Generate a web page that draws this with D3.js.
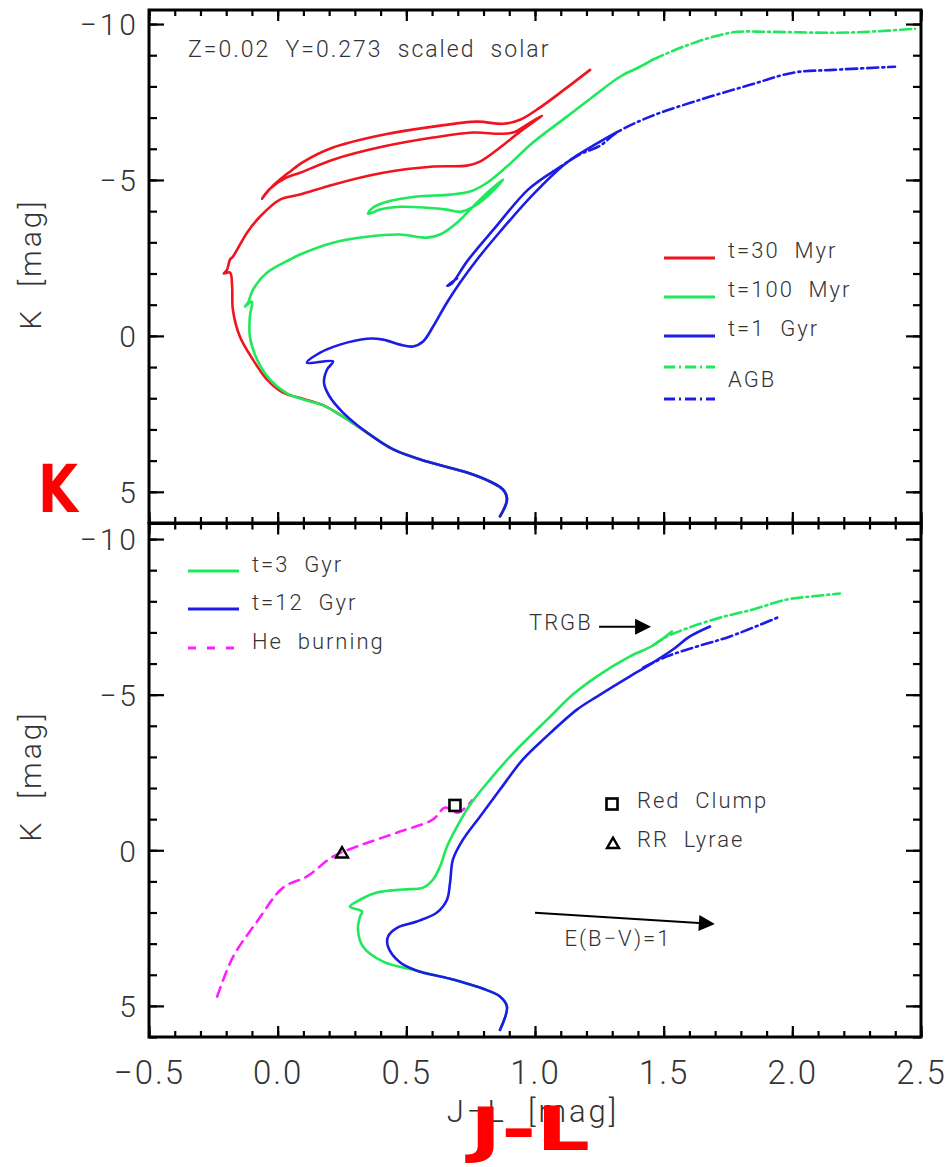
<!DOCTYPE html>
<html><head><meta charset="utf-8">
<script src="https://cdn.jsdelivr.net/npm/d3@7"></script>
<style>
html,body{margin:0;padding:0;background:#fff;}
svg{display:block;}
text{font-family:"Roboto","DejaVu Sans",sans-serif;font-weight:300;fill:#333;white-space:pre;}
</style></head>
<body>
<script>
// ---------------- DATA (J-L [mag], K [mag]) ----------------
const xTicksMajor = [-0.5, 0.0, 0.5, 1.0, 1.5, 2.0, 2.5];
const yTicksMajor = [-10, -5, 0, 5];

// Top panel isochrones
const red30Myr = [[0.864,5.79],[0.891,5.25],[0.876,4.93],[0.825,4.67],[0.736,4.38],[0.580,4.03],[0.449,3.64],[0.347,3.10],[0.254,2.59],[0.176,2.22],[0.100,2.02],[0.021,1.82],[-0.041,1.40],[-0.096,0.76],[-0.147,0.02],[-0.174,-0.84],[-0.177,-1.58],[-0.185,-2.03],[-0.209,-2.00],[-0.197,-2.12],[-0.185,-2.45],[-0.174,-2.54],[-0.119,-3.31],[-0.069,-3.82],[0.009,-4.37],[0.087,-4.53],[0.215,-4.85],[0.410,-5.23],[0.604,-5.43],[0.736,-5.46],[0.786,-5.59],[0.864,-6.04],[0.942,-6.55],[1.027,-7.06],[0.981,-6.84],[0.915,-6.52],[0.864,-6.48],[0.759,-6.52],[0.604,-6.36],[0.410,-6.07],[0.215,-5.65],[0.087,-5.23],[0.030,-5.06],[-0.030,-4.72],[-0.061,-4.40],[-0.020,-4.80],[0.045,-5.25],[0.100,-5.58],[0.215,-6.04],[0.410,-6.45],[0.604,-6.71],[0.775,-6.87],[0.876,-6.80],[0.942,-6.93],[1.019,-7.32],[1.124,-7.96],[1.214,-8.53]];
const green100Myr = [[0.864,5.79],[0.891,5.25],[0.876,4.93],[0.825,4.67],[0.736,4.38],[0.580,4.03],[0.449,3.64],[0.347,3.10],[0.254,2.59],[0.176,2.22],[0.100,2.04],[0.036,1.84],[-0.030,1.40],[-0.080,0.76],[-0.108,0.02],[-0.108,-0.62],[-0.100,-1.10],[-0.127,-0.94],[-0.115,-1.07],[-0.096,-1.48],[-0.041,-2.03],[0.048,-2.45],[0.087,-2.61],[0.215,-2.99],[0.347,-3.18],[0.475,-3.25],[0.580,-3.15],[0.631,-3.25],[0.697,-3.63],[0.786,-4.37],[0.876,-5.01],[0.814,-4.47],[0.759,-4.14],[0.709,-3.98],[0.658,-4.05],[0.580,-4.11],[0.475,-4.14],[0.398,-4.05],[0.367,-3.95],[0.351,-3.92],[0.370,-4.11],[0.425,-4.30],[0.541,-4.47],[0.670,-4.53],[0.748,-4.63],[0.814,-4.91],[0.891,-5.43],[0.992,-6.20],[1.124,-7.03],[1.225,-7.67],[1.330,-8.31],[1.408,-8.63],[1.458,-8.86]];
const green100MyrAGB = [[1.458,-8.86],[1.575,-9.27],[1.692,-9.59],[1.785,-9.75],[1.902,-9.75],[2.158,-9.72],[2.291,-9.75],[2.477,-9.85]];
const blue1Gyr = [[0.864,5.79],[0.891,5.25],[0.876,4.93],[0.825,4.67],[0.736,4.38],[0.580,4.03],[0.449,3.64],[0.347,3.10],[0.254,2.46],[0.200,1.92],[0.180,1.50],[0.192,1.08],[0.215,0.82],[0.114,0.86],[0.165,0.54],[0.242,0.28],[0.347,0.09],[0.410,0.12],[0.475,0.28],[0.526,0.34],[0.565,0.18],[0.604,-0.30],[0.658,-1.07],[0.709,-1.71],[0.775,-2.45],[0.864,-3.34],[0.992,-4.53],[1.124,-5.56],[1.253,-6.23],[1.322,-6.55]];
const blue1GyrLoop = [[0.697,-1.84],[0.658,-1.61],[0.677,-1.68],[0.736,-2.39],[0.845,-3.47],[0.973,-4.69],[1.070,-5.27]];
const blue1GyrAGB = [[1.070,-5.27],[1.175,-5.82],[1.253,-6.10],[1.318,-6.52],[1.447,-7.03],[1.641,-7.57],[1.836,-8.05],[2.003,-8.44],[2.158,-8.53],[2.399,-8.63]];

// Bottom panel isochrones
const green3Gyr = [[0.864,5.77],[0.891,5.03],[0.864,4.70],[0.798,4.45],[0.670,4.13],[0.541,3.87],[0.410,3.58],[0.332,3.10],[0.312,2.55],[0.320,2.13],[0.328,1.97],[0.281,1.81],[0.320,1.59],[0.386,1.36],[0.487,1.26],[0.565,1.20],[0.604,0.94],[0.631,0.52],[0.658,-0.12],[0.697,-0.76],[0.748,-1.47],[0.825,-2.27],[0.903,-3.01],[0.975,-3.62],[1.050,-4.22],[1.148,-5.01],[1.241,-5.59],[1.369,-6.23],[1.458,-6.58],[1.532,-7.03]];
const green3GyrAGB = [[1.458,-6.58],[1.513,-6.87],[1.692,-7.41],[1.847,-7.74],[1.980,-8.06],[2.080,-8.16],[2.185,-8.25]];
const blue12Gyr = [[0.864,5.77],[0.891,5.03],[0.864,4.70],[0.798,4.45],[0.670,4.13],[0.541,3.87],[0.475,3.60],[0.429,3.10],[0.429,2.77],[0.464,2.49],[0.541,2.29],[0.619,2.00],[0.658,1.59],[0.670,1.04],[0.681,0.30],[0.720,-0.34],[0.786,-1.08],[0.864,-1.95],[0.953,-2.92],[1.040,-3.62],[1.163,-4.52],[1.241,-4.94],[1.369,-5.59],[1.435,-5.91],[1.536,-6.45],[1.602,-6.87],[1.680,-7.19]];
const blue12GyrAGB = [[1.420,-5.87],[1.513,-6.23],[1.630,-6.55],[1.758,-6.87],[1.952,-7.51]];
const heBurning = [[-0.235,4.70],[-0.173,3.42],[-0.080,2.29],[0.021,1.20],[0.114,0.84],[0.215,0.20],[0.308,-0.12],[0.475,-0.60],[0.604,-0.99],[0.650,-1.37],[0.700,-1.21],[0.755,-1.60]];
const redClump = [[0.689,-1.44]];
const rrLyrae = [[0.250,0.07]];

// Annotations (data coordinates)
const trgbArrow = [[1.249,-7.18],[1.451,-7.18]];
const reddeningArrow = [[1.000,2.01],[1.699,2.37]];

const topLegendLabels = ["t=30  Myr","t=100  Myr","t=1  Gyr","AGB"];
const bottomLegendLabels = ["t=3  Gyr","t=12  Gyr","He  burning"];
const markerLabels = ["Red  Clump","RR  Lyrae"];

// ---------------- STYLE ----------------
const RED="#f0141e", GREEN="#1fe85a", BLUE="#1c1ce6", MAG="#ff1eff";
const DASHDOT="11,4,2,4";
const LS=2;

const W=946,H=1167;
const svg=d3.select("body").append("svg").attr("width",W).attr("height",H);
const x=d3.scaleLinear().domain([-0.5,2.5]).range([149,921]);
const yTop=d3.scaleLinear().domain([-10.45,6]).range([10,523]);
const yBot=d3.scaleLinear().domain([-10.5,6]).range([523.5,1037]);

const fmtY=d=>d<0?"\u2212"+Math.abs(d):String(d);
const fmtX=d=>d<0?"\u2212"+Math.abs(d).toFixed(1):d.toFixed(1);

function drawAxes(y, showX){
  const r=y.range(), x0=x.range()[0], x1=x.range()[1];
  const g=svg.append("g");
  const minorY=d3.range(-10,6.01,1), minorX=d3.range(-0.5,2.501,0.1);
  g.append("g").attr("transform",`translate(${x0},0)`).call(d3.axisLeft(y).tickValues(minorY).tickFormat("").tickSizeInner(-8).tickSizeOuter(0));
  g.append("g").attr("class","lab").attr("transform",`translate(${x0},0)`).call(d3.axisLeft(y).tickValues(yTicksMajor).tickFormat(fmtY).tickSizeInner(-15).tickSizeOuter(0).tickPadding(10));
  g.append("g").attr("transform",`translate(${x1},0)`).call(d3.axisRight(y).tickValues(minorY).tickFormat("").tickSizeInner(-8).tickSizeOuter(0));
  g.append("g").attr("transform",`translate(${x1},0)`).call(d3.axisRight(y).tickValues(yTicksMajor).tickFormat("").tickSizeInner(-15).tickSizeOuter(0));
  g.append("g").attr("transform",`translate(0,${r[0]})`).call(d3.axisTop(x).tickValues(minorX).tickFormat("").tickSizeInner(-6).tickSizeOuter(0));
  g.append("g").attr("transform",`translate(0,${r[0]})`).call(d3.axisTop(x).tickValues(xTicksMajor).tickFormat("").tickSizeInner(-11).tickSizeOuter(0));
  g.append("g").attr("transform",`translate(0,${r[1]})`).call(d3.axisBottom(x).tickValues(minorX).tickFormat("").tickSizeInner(-6).tickSizeOuter(0));
  g.append("g").attr("class","labx").attr("transform",`translate(0,${r[1]})`).call(d3.axisBottom(x).tickValues(xTicksMajor).tickFormat(showX?fmtX:"").tickSizeInner(-11).tickSizeOuter(0).tickPadding(24));
  g.selectAll(".domain").remove();
  g.selectAll(".tick line").attr("stroke","#000").attr("stroke-width",2.2);
  g.selectAll(".lab .tick text").attr("font-size",30).attr("dy","0.36em").attr("letter-spacing",3);
  g.selectAll(".labx .tick text").attr("font-size",33).attr("letter-spacing",2);
  g.selectAll(".tick text").attr("fill","#3a3a3a").style("font-family","Roboto, sans-serif").style("font-weight","300");
  g.append("rect").attr("x",x0).attr("y",r[0]).attr("width",x1-x0).attr("height",r[1]-r[0]).attr("fill","none").attr("stroke","#000").attr("stroke-width",3);
}

function curve(y,data,color,dash,w){
  const line=d3.line().x(d=>x(d[0])).y(d=>y(d[1])).curve(d3.curveCatmullRom.alpha(0.5));
  svg.append("path").datum(data).attr("d",line).attr("fill","none").attr("stroke",color)
    .attr("stroke-width",w||2.6).attr("stroke-linejoin","round").attr("stroke-linecap","round")
    .attr("stroke-dasharray",dash||null);
}
function label(xp,yp,txt,size,anchor){
  return svg.append("text").attr("x",xp).attr("y",yp).attr("font-size",size||22).attr("letter-spacing",LS)
    .attr("text-anchor",anchor||"start").text(txt);
}

// ---- top panel ----
curve(yTop,red30Myr,RED);
curve(yTop,green100Myr,GREEN);
curve(yTop,green100MyrAGB,GREEN,DASHDOT);
curve(yTop,blue1Gyr,BLUE);
curve(yTop,blue1GyrLoop,BLUE);
curve(yTop,blue1GyrAGB,BLUE,DASHDOT);
drawAxes(yTop,false);

label(188,57,"Z=0.02  Y=0.273  scaled  solar",23);

const tLeg=[{c:RED,d:null,y:258},{c:GREEN,d:null,y:297},{c:BLUE,d:null,y:336},{c:GREEN,d:DASHDOT,y:367},{c:BLUE,d:DASHDOT,y:399}];
tLeg.forEach(l=>svg.append("line").attr("x1",664).attr("x2",715).attr("y1",l.y).attr("y2",l.y).attr("stroke",l.c).attr("stroke-width",3).attr("stroke-dasharray",l.d));
[[topLegendLabels[0],258],[topLegendLabels[1],297],[topLegendLabels[2],336],[topLegendLabels[3],387]].forEach(t=>label(728,t[1],t[0],22));

// ---- bottom panel ----
curve(yBot,heBurning,MAG,"10,7");
curve(yBot,green3Gyr,GREEN);
curve(yBot,green3GyrAGB,GREEN,DASHDOT);
curve(yBot,blue12Gyr,BLUE);
curve(yBot,blue12GyrAGB,BLUE,DASHDOT);
drawAxes(yBot,true);

const bLeg=[{c:GREEN,d:null,y:571},{c:BLUE,d:null,y:609},{c:MAG,d:"8,11",y:648}];
bLeg.forEach((l,i)=>{
  svg.append("line").attr("x1",188).attr("x2",239).attr("y1",l.y).attr("y2",l.y).attr("stroke",l.c).attr("stroke-width",3).attr("stroke-dasharray",l.d);
  label(252,l.y+1,bottomLegendLabels[i],22);
});

// markers
function square(cx,cy,s){svg.append("rect").attr("x",cx-s/2).attr("y",cy-s/2).attr("width",s).attr("height",s).attr("fill","none").attr("stroke","#000").attr("stroke-width",2.6);}
function tri(cx,cy,s){svg.append("path").attr("d",`M${cx-s/2},${cy+s*0.42}L${cx+s/2},${cy+s*0.42}L${cx},${cy-s*0.45}Z`).attr("fill","none").attr("stroke","#000").attr("stroke-width",2.4).attr("stroke-linejoin","miter");}
redClump.forEach(d=>square(x(d[0]),yBot(d[1]),11));
rrLyrae.forEach(d=>tri(x(d[0]),yBot(d[1]),12));
square(612,804,11); tri(613,843,12);
label(637,808,markerLabels[0],22);
label(637,847,markerLabels[1],22);

// arrows
function arrow(p0,p1,len,half){
  const x0=x(p0[0]),y0=yBot(p0[1]),x1=x(p1[0]),y1=yBot(p1[1]);
  const a=Math.atan2(y1-y0,x1-x0);
  const bx=x1-len*Math.cos(a),by=y1-len*Math.sin(a);
  svg.append("line").attr("x1",x0).attr("y1",y0).attr("x2",bx).attr("y2",by).attr("stroke","#000").attr("stroke-width",2);
  const px=-Math.sin(a)*half,py=Math.cos(a)*half;
  svg.append("path").attr("d",`M${x1},${y1}L${bx+px},${by+py}L${bx-px},${by-py}Z`).attr("fill","#000");
}
arrow(trgbArrow[0],trgbArrow[1],16,8);
arrow(reddeningArrow[0],reddeningArrow[1],16,8);
label(529,630,"TRGB",22);
label(618,946,"E(B\u2212V)=1",22,"middle");

// axis titles
[264,776].forEach(cy=>svg.append("text").attr("transform",`translate(41,${cy}) rotate(-90)`).attr("text-anchor","middle").attr("font-size",30).attr("letter-spacing",3).attr("fill","#3a3a3a").text("K  [mag]"));
svg.append("text").attr("x",533).attr("y",1122).attr("text-anchor","middle").attr("font-size",31).attr("letter-spacing",3).attr("fill","#3a3a3a").text("J\u2212L  [mag]");

// red hand annotations
svg.append("text").attr("x",38).attr("y",512).attr("font-size",66).attr("textLength",40).attr("lengthAdjust","spacingAndGlyphs")
  .style("font-family","DejaVu Sans").style("font-weight","bold").style("fill","#ff0000").text("K");
svg.append("text").attr("x",470).attr("y",1150).attr("font-size",60).attr("textLength",120).attr("lengthAdjust","spacingAndGlyphs")
  .style("font-family","DejaVu Sans").style("font-weight","bold").style("fill","#ff0000").text("J-L");
</script>
</body></html>
